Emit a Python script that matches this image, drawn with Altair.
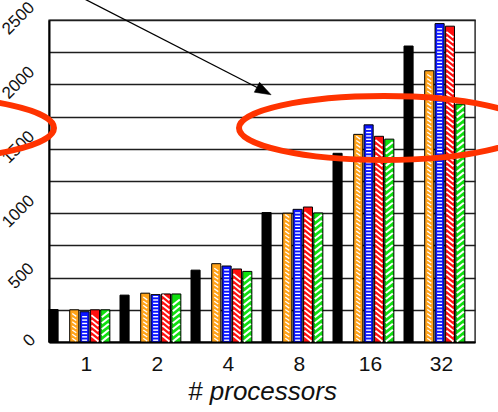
import altair as alt
import pandas as pd

# Processor counts on the x axis
groups = ["1", "2", "4", "8", "16", "32"]

# Six slots per group; slot "B" is an empty series that leaves the gap after the black bar
series = ["A", "B", "C", "D", "E", "F"]
black = [252, 364, 558, 1005, 1465, 2298]
orange = [250, 379, 608, 1000, 1612, 2106]
blue = [235, 368, 590, 1030, 1686, 2472]
red = [250, 373, 567, 1048, 1597, 2452]
green = [250, 373, 548, 1002, 1575, 1847]

series_values = {"A": black, "C": orange, "D": blue, "E": red, "F": green}
series_colors = {"A": "#000000", "C": "#ffa31a", "D": "#0a14ff", "E": "#ff1010", "F": "#10e010"}

y_ticks = list(range(0, 2501, 250))

rows = []
for s, vals in series_values.items():
    for g, v in zip(groups, vals):
        rows.append({"group": g, "series": s, "value": v})
bars_df = pd.DataFrame(rows)

FONT = "Liberation Sans"

x_enc = alt.X(
    "group:N",
    sort=groups,
    scale=alt.Scale(paddingInner=1 / 7, paddingOuter=1 / 14, align=0),
    axis=alt.Axis(
        title="# processors",
        titleFont=FONT,
        titleFontSize=26,
        titleFontStyle="italic",
        titleFontWeight="normal",
        titleColor="#111111",
        titlePadding=4,
        labelFont=FONT,
        labelFontSize=21,
        labelColor="#111111",
        labelAngle=0,
        labelOffset=7,
        labelPadding=11,
        ticks=False,
        domain=True,
        domainColor="#000000",
        domainWidth=2,
        grid=False,
    ),
)
xoff_enc = alt.XOffset(
    "series:N", scale=alt.Scale(domain=series, paddingInner=0.12, paddingOuter=0)
)
y_scale = alt.Scale(domain=[0, 2500], nice=False, zero=True)
y_axis = alt.Axis(
    title=None,
    values=y_ticks,
    format="d",
    labelExpr="datum.value % 500 == 0 ? datum.label : ''",
    labelFont=FONT,
    labelFontSize=17,
    labelColor="#111111",
    labelAngle=-45,
    labelAlign="center",
    labelBaseline="middle",
    labelOffset=-2,
    labelPadding={
        "condition": [
            {"test": "datum.value >= 1000", "value": 31},
            {"test": "datum.value >= 100", "value": 28},
        ],
        "value": 20,
    },
    ticks=False,
    domain=True,
    domainColor="#000000",
    domainWidth=2,
    grid=True,
    gridColor="#1e1e1e",
    gridWidth=1.4,
)

bars = (
    alt.Chart(bars_df)
    .mark_bar(stroke="#000000", strokeWidth=1, opacity=1)
    .encode(
        x=x_enc,
        xOffset=xoff_enc,
        y=alt.Y("value:Q", scale=y_scale, axis=y_axis),
        color=alt.Color(
            "series:N",
            scale=alt.Scale(domain=list(series_colors), range=list(series_colors.values())),
            legend=None,
        ),
    )
)


def stripes(name, path, size, step, width, inset):
    """White hatch strokes repeated up the inside of one series' bars."""
    return (
        alt.Chart(bars_df)
        .transform_filter(alt.datum.series == name)
        .transform_calculate(s=f"sequence({inset}, datum.value - {inset}, {step})")
        .transform_flatten(["s"])
        .mark_point(
            shape=path, size=size, filled=False, stroke="white", strokeWidth=width, opacity=1
        )
        .encode(
            x=x_enc,
            xOffset=xoff_enc,
            y=alt.Y("s:Q", scale=y_scale, axis=y_axis),
        )
    )


hatch = [
    stripes("C", "M -1 -0.7 L 1 0.7", 16, 32, 1.3, 18),
    stripes("D", "M -1 0 L 1 0", 25, 26, 1.4, 14),
    stripes("E", "M -1 -0.8 L 1 0.8", 49, 40, 1.8, 26),
    stripes("F", "M -1 0.8 L 1 -0.8", 49, 47, 2.0, 26),
]

plot = alt.layer(bars, *hatch)

# Red ellipses and arrow drawn over the plot (pixel positions inside the plot area)
ellipse_x = [-140, 335]
ellipse_y = [108, 108]
arrow_x, arrow_y, arrow_x2, arrow_y2 = [18], [-30], [213], [70]
head_x, head_y = [215], [71]

ellipse_df = pd.DataFrame({"px": ellipse_x, "py": ellipse_y})
arrow_df = pd.DataFrame({"px": arrow_x, "py": arrow_y, "px2": arrow_x2, "py2": arrow_y2})
head_df = pd.DataFrame({"px": head_x, "py": head_y})

px = alt.X("px:Q", scale=None, axis=None)
py = alt.Y("py:Q", scale=None, axis=None)

ellipses = (
    alt.Chart(ellipse_df)
    .mark_point(
        shape="M -1 0 A 1 0.2207 0 1 0 1 0 A 1 0.2207 0 1 0 -1 0 Z",
        size=84100,
        filled=False,
        stroke="#ff3300",
        strokeWidth=6,
        opacity=1,
    )
    .encode(x=px, y=py)
)
arrow = (
    alt.Chart(arrow_df)
    .mark_rule(color="#000000", strokeWidth=1.3)
    .encode(x=px, y=py, x2="px2:Q", y2="py2:Q")
)
head = (
    alt.Chart(head_df)
    .mark_point(
        shape="M 1 0 L -1 -0.7 L -1 0.7 Z",
        size=256,
        filled=True,
        fill="#000000",
        stroke="#000000",
        strokeWidth=0.5,
        angle=28,
        opacity=1,
    )
    .encode(x=px, y=py)
)

overlay = alt.layer(ellipses, arrow, head)

chart = (
    alt.layer(plot, overlay)
    .resolve_scale(x="independent", y="independent")
    .properties(
        width=426,
        height=322,
        padding={"left": 49, "top": 20, "right": 23, "bottom": 70},
        autosize=alt.AutoSizeParams(type="none"),
        background="white",
    )
    .configure_view(stroke="#1e1e1e", strokeWidth=1.4)
)

chart.save("out.html", embed_options={"renderer": "svg", "actions": False})
